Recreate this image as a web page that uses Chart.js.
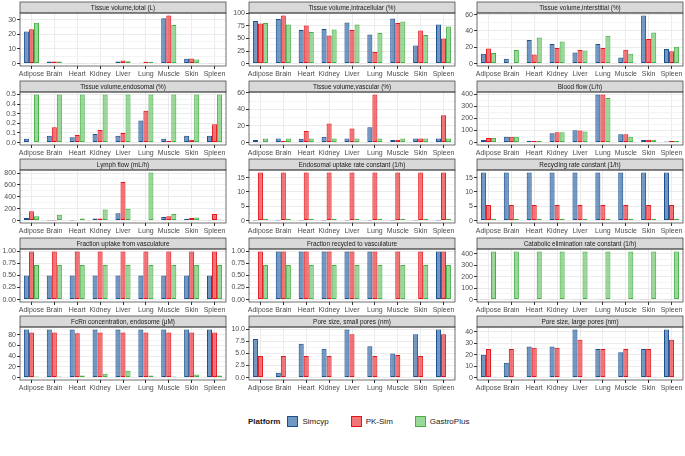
<!DOCTYPE html>
<html>
<head>
<meta charset="utf-8">
<script src="https://cdn.jsdelivr.net/npm/chart.js@4.4.1/dist/chart.umd.min.js"></script>
<style>
  html, body { margin: 0; padding: 0; background: #fff; }
  #wrap { position: relative; width: 685px; height: 456px; overflow: hidden; font-family: "Liberation Sans", Arial, sans-serif; }
  .panel { position: absolute; }
  .legend { position: absolute; left: 248px; top: 414px; height: 14px; display: flex; align-items: center; font-size: 8px; color: #1a1a1a; }
  .legend .ttl { font-weight: bold; margin-right: 7px; }
  .legend .key { display: inline-block; width: 11px; height: 11px; margin: 0 4px 0 0; box-sizing: border-box; border: 1px solid; }
  .legend .lab { margin-right: 22px; }
</style>
</head>
<body>
<div id="wrap"></div>
<script>
const tissues = ['Adipose', 'Brain', 'Heart', 'Kidney', 'Liver', 'Lung', 'Muscle', 'Skin', 'Spleen'];
const platforms = ['Simcyp', 'PK-Sim', 'GastroPlus'];

// each panel: [Simcyp, PK-Sim, GastroPlus]
const volTotal = [
  [22, 1.4, 0.3, 0.3, 1.5, 0.5, 31, 3.3, 0.2],
  [23.5, 1.4, 0.3, 0.4, 2.2, 1.2, 33, 3.5, 0.2],
  [28, 1.4, 0.3, 0.4, 1.6, 1.2, 26.5, 2.8, 0.2],
];
const volIntra = [
  [85, 89, 67, 69, 82, 58, 90, 36, 78],
  [80, 96, 76, 56, 67, 23, 81, 66, 50],
  [81, 78, 63, 68, 78, 61, 84, 57, 74],
];
const volInter = [
  [12, 6, 29, 24, 13.5, 24, 7.5, 59, 18],
  [18.5, 0.5, 11, 19, 16.5, 19, 17, 30, 15],
  [13, 16.5, 32, 27, 16, 34, 12, 38, 20.5],
];
const volEndo = [
  [0.04, 0.07, 0.055, 0.09, 0.07, 0.23, 0.04, 0.07, 0.07],
  [0.005, 0.16, 0.08, 0.13, 0.10, 0.33, 0.02, 0.03, 0.19],
  [0.5, 0.5, 0.5, 0.5, 0.5, 0.5, 0.5, 0.5, 0.5],
];
const volVasc = [
  [3, 5, 4.5, 7, 5, 18.5, 3, 5, 5],
  [1, 2, 14, 23, 17, 58, 3.5, 5, 33],
  [5, 5, 5, 5, 5, 5, 5, 5, 5],
];
const bloodFlow = [
  [22, 48, 16, 78, 103, 400, 70, 22, 10],
  [38, 48, 16, 86, 101, 400, 70, 24, 14],
  [38, 48, 16, 86, 93, 370, 48, 24, 14],
];
const lymphFlow = [
  [45, 2, 3, 35, 125, 10, 60, 25, 5],
  [155, 2, 10, 35, 650, 10, 75, 45, 110],
  [75, 100, 35, 185, 200, 810, 110, 50, 20],
];
const endoUptake = [
  [0.05, 0.05, 0.05, 0.05, 0.05, 0.05, 0.05, 0.05, 0.05],
  [16.8, 16.8, 16.8, 16.8, 16.8, 16.8, 16.8, 16.8, 16.8],
  [0.6, 0.6, 0.6, 0.6, 0.6, 0.6, 0.6, 0.6, 0.6],
];
const recycling = [
  [16.8, 16.8, 16.8, 16.8, 16.8, 16.8, 16.8, 16.8, 16.8],
  [5.4, 5.4, 5.4, 5.4, 5.4, 5.4, 5.4, 5.4, 5.4],
  [0.6, 0.6, 0.6, 0.6, 0.6, 0.6, 0.6, 0.6, 0.6],
];
const fracUptake = [
  [0.5, 0.5, 0.5, 0.5, 0.5, 0.5, 0.5, 0.5, 0.5],
  [1, 1, 1, 1, 1, 1, 1, 1, 1],
  [0.72, 0.72, 0.72, 0.72, 0.72, 0.72, 0.72, 0.72, 0.72],
];
const fracRecycled = [
  [0, 1, 1, 1, 1, 1, 0, 0, 1],
  [1, 1, 1, 1, 1, 1, 1, 1, 1],
  [0.72, 0.72, 0.72, 0.72, 0.72, 0.72, 0.72, 0.72, 0.72],
];
const catabolic = [
  [2, 2, 2, 2, 2, 2, 2, 2, 2],
  [2, 2, 2, 2, 2, 2, 2, 2, 2],
  [420, 420, 420, 420, 420, 420, 420, 420, 420],
];
const fcrn = [
  [90, 90, 90, 90, 90, 90, 90, 90, 90],
  [84, 84, 83, 84, 84, 84, 84, 84, 84],
  [2, 2, 4, 7, 13, 4, 2, 6, 4],
];
const poreSmall = [
  [8, 1, 7, 6, 10, 6.5, 5, 9, 10],
  [4.5, 4.5, 4.5, 4.5, 9, 4.5, 4.7, 4.5, 9],
  [0, 0, 0, 0, 0, 0, 0, 0, 0],
];
const poreLarge = [
  [20, 13, 27, 27, 42, 25, 22, 25, 42],
  [25, 25, 26, 26, 33, 25, 25, 25, 33],
  [0, 0, 0, 0, 0, 0, 0, 0, 0],
];

// y tick labels
const ticks30 = ['0', '10', '20', '30'];
const ticks100 = ['0', '25', '50', '75', '100'];
const ticks60 = ['0', '20', '40', '60'];
const ticksEndo = ['0.0', '0.1', '0.2', '0.3', '0.4', '0.5'];
const ticks400 = ['0', '100', '200', '300', '400'];
const ticks800 = ['0', '200', '400', '600', '800'];
const ticks15 = ['0', '5', '10', '15'];
const ticksFrac = ['0.00', '0.25', '0.50', '0.75', '1.00'];
const ticks80 = ['0', '20', '40', '60', '80'];
const ticks10 = ['0.0', '2.5', '5.0', '7.5', '10.0'];
const ticks40 = ['0', '10', '20', '30', '40'];

const panels = [
  ['Tissue volume,total (L)', volTotal, ticks30],
  ['Tissue volume,intracellular (%)', volIntra, ticks100],
  ['Tissue volume,interstitial (%)', volInter, ticks60],
  ['Tissue volume,endosomal (%)', volEndo, ticksEndo],
  ['Tissue volume,vascular (%)', volVasc, ticks60],
  ['Blood flow (L/h)', bloodFlow, ticks400],
  ['Lymph flow (mL/h)', lymphFlow, ticks800],
  ['Endosomal uptake rate constant (1/h)', endoUptake, ticks15],
  ['Recycling rate constant (1/h)', recycling, ticks15],
  ['Fraction uptake from vasculature', fracUptake, ticksFrac],
  ['Fraction recycled to vasculature', fracRecycled, ticksFrac],
  ['Catabolic elimination rate constant (1/h)', catabolic, ticks400],
  ['FcRn concentration, endosome (\u03bcM)', fcrn, ticks80],
  ['Pore size, small pores (nm)', poreSmall, ticks10],
  ['Pore size, large pores (nm)', poreLarge, ticks40],
];

const fills = ['rgba(52,108,170,0.7)', 'rgba(240,58,62,0.7)', 'rgba(110,200,110,0.7)'];
const strokes = ['#1d4f8c', '#e3151b', '#45b045'];

const colLeft = [0, 229, 457];
const rowTop = [0, 79, 157, 236, 314];
const FONT = '"Liberation Sans", Arial, sans-serif';

const facetPlugin = {
  id: 'facet',
  afterDraw(chart, args, opts) {
    const { ctx, chartArea: a } = chart;
    ctx.save();
    ctx.fillStyle = '#d9d9d9';
    ctx.fillRect(a.left, 2, a.right - a.left, a.top - 2);
    ctx.strokeStyle = '#333333';
    ctx.lineWidth = 0.7;
    ctx.strokeRect(a.left, 2, a.right - a.left, a.top - 2);
    ctx.strokeRect(a.left, a.top, a.right - a.left, a.bottom - a.top);
    ctx.fillStyle = '#1a1a1a';
    ctx.font = '6.4px ' + FONT;
    ctx.textAlign = 'center';
    ctx.textBaseline = 'middle';
    ctx.fillText(opts.title, (a.left + a.right) / 2, (2 + a.top) / 2 + 0.5);
    ctx.restore();
  }
};

function buildTicks(labels, min, max) {
  const vals = labels.map(parseFloat);
  const step = vals[1] - vals[0];
  const out = [];
  for (let i = 0; i < vals.length; i++) {
    out.push({ value: vals[i], lab: labels[i] });
    const half = vals[i] + step / 2;
    if (half <= max) out.push({ value: half, m: true, lab: '' });
  }
  return out;
}

function makePanel(i) {
  const [title, series, tickLabels] = panels[i];
  const col = i % 3, row = Math.floor(i / 3);
  const div = document.createElement('div');
  div.className = 'panel';
  div.style.left = colLeft[col] + 'px';
  div.style.top = rowTop[row] + 'px';
  const canvas = document.createElement('canvas');
  canvas.width = 228;
  canvas.height = 79;
  div.appendChild(canvas);
  document.getElementById('wrap').appendChild(div);

  const top = Math.max(...series.flat());
  const yMin = -0.05 * top, yMax = 1.05 * top;

  new Chart(canvas, {
    type: 'bar',
    data: {
      labels: tissues,
      datasets: series.map((d, k) => ({
        label: platforms[k],
        data: d,
        backgroundColor: fills[k],
        borderColor: strokes[k],
        borderWidth: 1,
        borderSkipped: false,
        categoryPercentage: 0.66,
        barPercentage: 1,
      })),
    },
    options: {
      responsive: false,
      animation: false,
      devicePixelRatio: 1,
      layout: { padding: { top: 13, right: 2, bottom: 0, left: 0 } },
      plugins: {
        legend: { display: false },
        tooltip: { enabled: false },
        facet: { title },
      },
      scales: {
        x: {
          afterFit: s => { s.height = 13; },
          ticks: { font: { family: FONT, size: 7 }, color: '#4d4d4d', autoSkip: false, maxRotation: 0, minRotation: 0, padding: 1 },
          grid: { offset: false, color: '#ebebeb', tickColor: '#333333', tickLength: 3 },
          border: { display: false },
        },
        y: {
          min: yMin,
          max: yMax,
          afterBuildTicks: s => { s.ticks = buildTicks(tickLabels, s.min, s.max); },
          afterFit: s => { s.width = 20; },
          ticks: {
            font: { family: FONT, size: 7 }, color: '#4d4d4d', padding: 1,
            autoSkip: false,
            callback: (v, idx, t) => t[idx].lab,
          },
          grid: {
            color: c => (c.tick && c.tick.m) ? '#f4f4f4' : '#ebebeb',
            tickColor: c => (c.tick && c.tick.m) ? 'rgba(0,0,0,0)' : '#333333',
            tickLength: 3,
          },
          border: { display: false },
        },
      },
    },
    plugins: [facetPlugin],
  });
}

panels.forEach((p, i) => makePanel(i));

// legend
const legend = document.createElement('div');
legend.className = 'legend';
legend.innerHTML = '<span class="ttl">Platform</span>' + platforms.map((p, k) =>
  `<span class="key" style="background:${fills[k]};border-color:${strokes[k]}"></span><span class="lab">${p}</span>`
).join('');
document.getElementById('wrap').appendChild(legend);
</script>
</body>
</html>
